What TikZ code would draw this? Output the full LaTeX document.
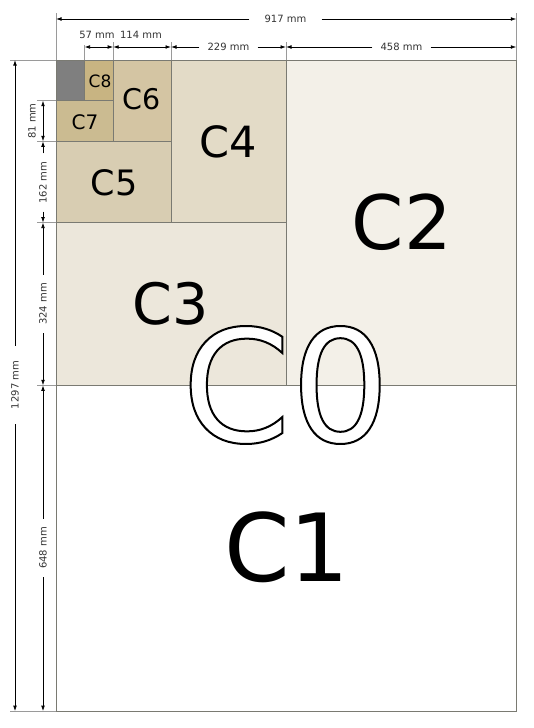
\documentclass[tikz,border=0pt]{standalone}
\usepackage{fontspec}
\setmainfont{DejaVu Sans}
\usetikzlibrary{arrows.meta}
\definecolor{cgray}{HTML}{7F7F7F}
\definecolor{ceight}{HTML}{C8B482}
\definecolor{cseven}{HTML}{CBBB91}
\definecolor{csix}{HTML}{D4C5A3}
\definecolor{cfive}{HTML}{D8CDB2}
\definecolor{cfour}{HTML}{E3DBC7}
\definecolor{cthree}{HTML}{ECE7DB}
\definecolor{ctwo}{HTML}{F3F0E8}
\definecolor{edgec}{HTML}{7A7A72}
\definecolor{extc}{HTML}{9A9A9A}
\definecolor{dimc}{HTML}{333333}
\newcommand{\outlinetext}[1]{{\color{white}\special{pdf:literal direct 2 Tr 2 w 0 G}#1\special{pdf:literal direct 0 Tr}}}
\begin{document}
\begin{tikzpicture}[x=1pt,y=-1pt,
  region/.style={draw=edgec, line width=0.8pt},
  extline/.style={draw=extc, line width=0.7pt},
  dimline/.style={draw=black, line width=0.8pt, -{Latex[length=5.5pt,width=3.8pt]}},
  dimboth/.style={draw=black, line width=0.8pt, {Latex[length=5.5pt,width=3.8pt]}-{Latex[length=5.5pt,width=3.8pt]}},
  dimtext/.style={font=\fontsize{10}{11}\selectfont, text=dimc, inner ysep=0pt, inner xsep=8pt},
  lbl/.style={inner sep=0pt, font=\fontsize{#1}{#1}\selectfont}
]
\useasboundingbox (0,0) rectangle (533,728);
% sheet regions
\draw[region, fill=white] (56,60) rectangle (516.3,711.1);
\draw[region, fill=ctwo] (286,60) rectangle (516.3,385.3);
\draw[region, fill=cthree] (56,222.6) rectangle (286,385.3);
\draw[region, fill=cfour] (171,60) rectangle (286,222.6);
\draw[region, fill=cfive] (56,141.3) rectangle (171,222.6);
\draw[region, fill=csix] (113.2,60) rectangle (171,141.3);
\draw[region, fill=cseven] (56,100.7) rectangle (113.2,141.3);
\draw[region, fill=ceight] (84.6,60) rectangle (113.2,100.7);
\draw[region, fill=cgray] (56,60) rectangle (84.6,100.7);
% labels
\node[lbl=94] (c1) at (287,547) {C1};
\node[lbl=75] (c2) at (402,222) {C2};
\node[lbl=57] (c3) at (171,304) {C3};
\node[lbl=43] (c4) at (228,142) {C4};
\node[lbl=35] (c5) at (114,183) {C5};
\node[lbl=28.5] (c6) at (142,99) {C6};
\node[lbl=20] (c7) at (85,122) {C7};
\node[lbl=17] (c8) at (100,81) {C8};
\node[lbl=156] (c0) at (286,385) {\outlinetext{C0}};
% extension lines
\coordinate (e56t) at (56,13); \coordinate (e56b) at (56,60);
\coordinate (e516t) at (516.3,13); \coordinate (e516b) at (516.3,60);
\coordinate (e85t) at (84.6,45); \coordinate (e85b) at (84.6,60);
\coordinate (e113t) at (113.2,42); \coordinate (e113b) at (113.2,60);
\coordinate (e171t) at (171,42); \coordinate (e171b) at (171,60);
\coordinate (e286t) at (286,42); \coordinate (e286b) at (286,60);
\draw[extline] (e56t) -- (e56b);
\draw[extline] (e516t) -- (e516b);
\draw[extline] (e85t) -- (e85b);
\draw[extline] (e113t) -- (e113b);
\draw[extline] (e171t) -- (e171b);
\draw[extline] (e286t) -- (e286b);
\coordinate (h60l) at (10,60); \coordinate (h60r) at (56,60);
\coordinate (h711l) at (10,711.1); \coordinate (h711r) at (56,711.1);
\coordinate (h101l) at (37,100.7); \coordinate (h101r) at (56,100.7);
\coordinate (h141l) at (37,141.3); \coordinate (h141r) at (56,141.3);
\coordinate (h223l) at (37,222.6); \coordinate (h223r) at (56,222.6);
\coordinate (h385l) at (37,385.3); \coordinate (h385r) at (56,385.3);
\draw[extline] (h60l) -- (h60r);
\draw[extline] (h711l) -- (h711r);
\draw[extline] (h101l) -- (h101r);
\draw[extline] (h141l) -- (h141r);
\draw[extline] (h223l) -- (h223r);
\draw[extline] (h385l) -- (h385r);
% top dimensions
\coordinate (d917l) at (56,19); \coordinate (d917r) at (516.3,19);
\node[dimtext, inner xsep=15pt] (t917) at (285.5,19) {917 mm};
\draw[dimline] (t917.west) -- (d917l);
\draw[dimline] (t917.east) -- (d917r);
\coordinate (d57l) at (84.6,47); \coordinate (d57r) at (113.2,47);
\coordinate (d114r) at (171,47);
\coordinate (d286) at (286,47); \coordinate (d516) at (516.3,47);
\draw[dimboth] (d57l) -- (d57r);
\draw[dimboth] (d57r) -- (d114r);
\node[dimtext, inner xsep=0pt] (t57) at (97,35) {57 mm};
\node[dimtext, inner xsep=0pt] (t114) at (141,35) {114 mm};
\node[dimtext] (t229) at (228.5,47) {229 mm};
\draw[dimline] (t229.west) -- (d114r);
\draw[dimline] (t229.east) -- (d286);
\node[dimtext] (t458) at (401.5,47) {458 mm};
\draw[dimline] (t458.west) -- (d286);
\draw[dimline] (t458.east) -- (d516);
% left dimensions
\coordinate (v1297t) at (15,60); \coordinate (v1297b) at (15,711.1);
\node[dimtext, rotate=90, inner xsep=15pt] (t1297) at (15,385) {1297 mm};
\draw[dimline] (t1297.east) -- (v1297t);
\draw[dimline] (t1297.west) -- (v1297b);
\coordinate (v101) at (43,100.7); \coordinate (v141) at (43,141.3);
\coordinate (v223) at (43,222.6); \coordinate (v385) at (43,385.3);
\coordinate (v711) at (43,711.1);
\draw[dimboth] (v101) -- (v141);
\node[dimtext, rotate=90, inner xsep=0pt] (t81) at (32,121) {81 mm};
\node[dimtext, rotate=90] (t162) at (43,182.5) {162 mm};
\draw[dimline] (t162.east) -- (v141);
\draw[dimline] (t162.west) -- (v223);
\node[dimtext, rotate=90] (t324) at (43,304) {324 mm};
\draw[dimline] (t324.east) -- (v223);
\draw[dimline] (t324.west) -- (v385);
\node[dimtext, rotate=90] (t648) at (43,548) {648 mm};
\draw[dimline] (t648.east) -- (v385);
\draw[dimline] (t648.west) -- (v711);
\end{tikzpicture}
\end{document}
